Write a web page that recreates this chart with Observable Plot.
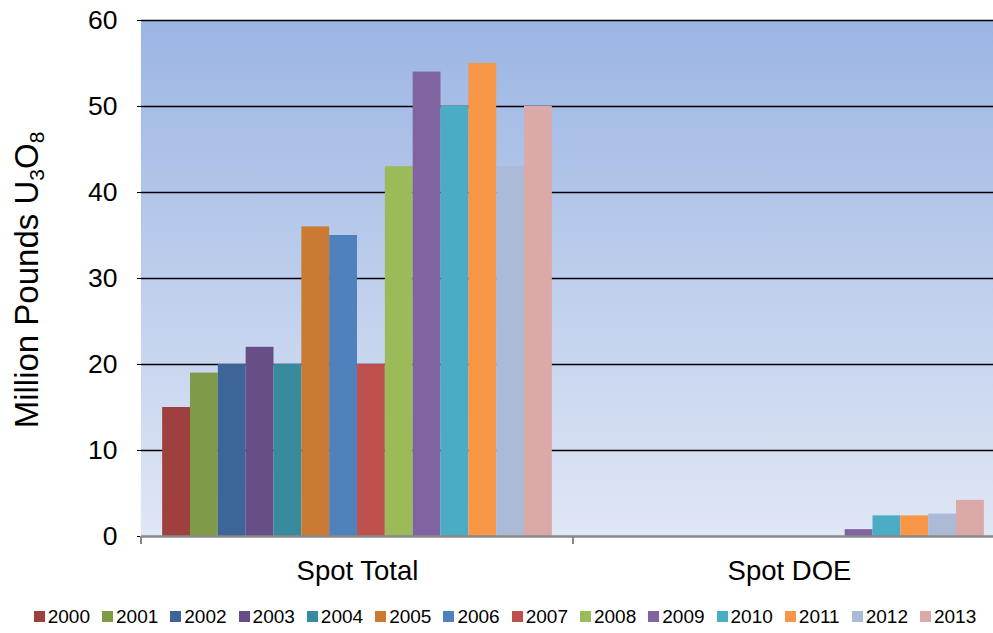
<!DOCTYPE html>
<html><head><meta charset="utf-8">
<script src="https://cdn.jsdelivr.net/npm/d3@7"></script>
<script src="https://cdn.jsdelivr.net/npm/@observablehq/plot@0.6"></script>
<style>
html,body{margin:0;padding:0;background:#fff;overflow:hidden;}
body{width:993px;height:633px;font-family:"Liberation Sans",Arial,sans-serif;}
#chart svg{display:block;overflow:visible;}
#legend{height:33px;display:flex;justify-content:center;align-items:center;padding-left:17px;box-sizing:border-box;width:993px;}
#legend .lg-swatches{margin:0 !important;min-height:33px;}
#legend .lg-swatch{margin-right:12px !important;}
#legend .lg-swatch:last-child{margin-right:0 !important;}
#legend .lg-swatch > svg{margin-right:3px !important;}
</style></head><body><div id="chart"></div><div id="legend"></div>
<script>
const categories = ["Spot Total", "Spot DOE"];
const years = ["2000","2001","2002","2003","2004","2005","2006","2007","2008","2009","2010","2011","2012","2013"];
const spotTotal = [15, 19, 20, 22, 20, 36, 35, 20, 43, 54, 50, 55, 43, 50];
const spotDOE = [0, 0, 0, 0, 0, 0, 0, 0, 0, 0.8, 2.4, 2.4, 2.6, 4.2];
const yTicks = [0, 10, 20, 30, 40, 50, 60];
const gridTicks = [10, 20, 30, 40, 50, 60];
const yearColors = ["#9e413e","#7f9a48","#3e6597","#684e87","#388a9e","#cb7a34","#4f81bd",
                    "#c0504d","#9bbb59","#8064a2","#4bacc6","#f79646","#aabad7","#dba9a8"];
const yLabelParts = [["Million Pounds U", false], ["3", true], ["O", false], ["8", true]];

const rows = [];
categories.forEach((c, ci) => {
  const vals = ci === 0 ? spotTotal : spotDOE;
  years.forEach((y, i) => rows.push({category: c, year: y, value: vals[i]}));
});

const FONT = "Liberation Sans, Arial, sans-serif";

const plot = Plot.plot({
  width: 993,
  height: 600,
  marginLeft: 141,
  marginRight: -12,
  marginTop: 20,
  marginBottom: 64,
  style: {fontFamily: FONT, color: "#000", background: "transparent"},
  fx: {domain: categories, padding: 0, round: false, label: null},
  x: {domain: years, paddingInner: 0, paddingOuter: 0.76, round: false, axis: null},
  y: {domain: [0, 60], label: null},
  color: {domain: years, range: yearColors},
  marks: [
    Plot.frame({fill: "url(#bgGrad)", stroke: "none", insetLeft: -0.6, insetRight: -0.6}),
    Plot.ruleY(gridTicks, {stroke: "#000", strokeWidth: 1.3}),
    Plot.barY(rows, {fx: "category", x: "year", y: "value", fill: "year"}),
    Plot.ruleY([0], {stroke: "#888", strokeWidth: 2.5}),
    Plot.axisY({ticks: yTicks, tickSize: 4, tickPadding: 20, fontSize: 26.5, label: null}),
    Plot.axisFx({anchor: "bottom", tickSize: 0, tickPadding: 24, fontSize: 27.5, label: null})
  ]
});

const svg = d3.select(plot);
const defs = svg.insert("defs", ":first-child");
const yScale = plot.scale("y");
const grad = defs.append("linearGradient").attr("id", "bgGrad")
  .attr("gradientUnits", "userSpaceOnUse")
  .attr("x1", 0).attr("x2", 0)
  .attr("y1", yScale.apply(60)).attr("y2", yScale.apply(0));
grad.append("stop").attr("offset", "0%").attr("stop-color", "#9bb5e3");
grad.append("stop").attr("offset", "100%").attr("stop-color", "#e0e7f5");

// category boundary ticks from the fx scale
const fx = plot.scale("fx");
const edges = categories.map(c => fx.apply(c));
edges.push(fx.apply(categories[categories.length - 1]) + fx.bandwidth);
const y0 = yScale.apply(0);
svg.append("g").selectAll("line").data(edges).join("line")
  .attr("x1", d => d).attr("x2", d => d)
  .attr("y1", y0).attr("y2", y0 + 8)
  .attr("stroke", "#888").attr("stroke-width", 2);

// y axis title with subscripts
const yMid = (yScale.apply(0) + yScale.apply(60)) / 2 + 2;
const t = svg.append("text")
  .attr("transform", `translate(38,${yMid}) rotate(-90)`)
  .attr("text-anchor", "middle")
  .attr("font-family", FONT).attr("font-size", 33).attr("fill", "#000");
yLabelParts.forEach(([s, sub], i) => {
  const prevSub = i > 0 && yLabelParts[i - 1][1];
  const ts = t.append("tspan").text(s);
  if (sub) ts.attr("font-size", 21).attr("dy", 6);
  else ts.attr("dy", prevSub ? -6 : 0);
});

document.getElementById("chart").appendChild(plot);

const legend = Plot.legend({
  color: {domain: years, range: yearColors, type: "ordinal"},
  legend: "swatches",
  className: "lg",
  swatchWidth: 11,
  swatchHeight: 11,
  style: {fontSize: "19px", fontFamily: FONT, color: "#000"}
});
document.getElementById("legend").appendChild(legend);
</script></body></html>
